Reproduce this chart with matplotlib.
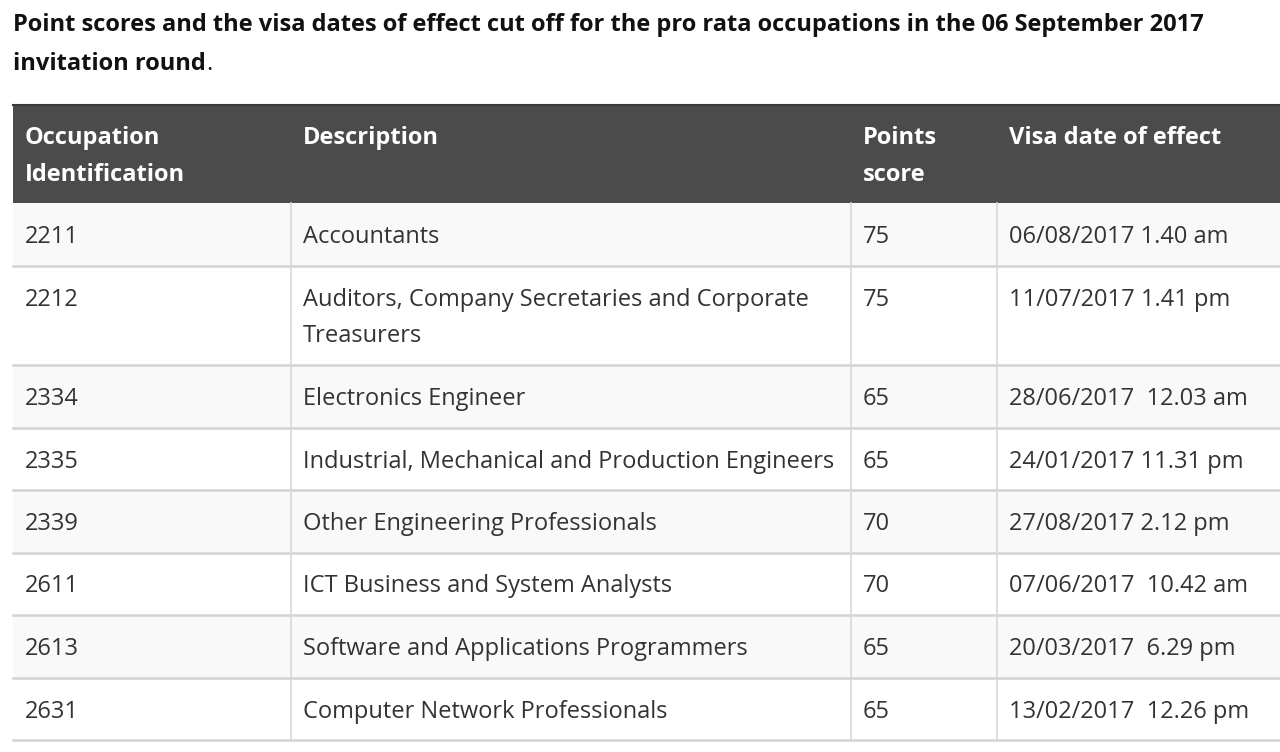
import matplotlib
matplotlib.use("Agg")
import matplotlib.pyplot as plt
from matplotlib.patches import Rectangle

title_lines = ["Point scores and the visa dates of effect cut off for the pro rata occupations in the 06 September 2017",
               "invitation round"]
headers = [["Occupation", "Identification"], ["Description"], ["Points", "score"], ["Visa date of effect"]]
codes = ["2211", "2212", "2334", "2335", "2339", "2611", "2613", "2631"]
descriptions = [["Accountants"],
                ["Auditors, Company Secretaries and Corporate", "Treasurers"],
                ["Electronics Engineer"],
                ["Industrial, Mechanical and Production Engineers"],
                ["Other Engineering Professionals"],
                ["ICT Business and System Analysts"],
                ["Software and Applications Programmers"],
                ["Computer Network Professionals"]]
points = ["75", "75", "65", "65", "70", "70", "65", "65"]
dates = ["06/08/2017 1.40 am", "11/07/2017 1.41 pm", "28/06/2017  12.03 am", "24/01/2017 11.31 pm",
         "27/08/2017 2.12 pm", "07/06/2017  10.42 am", "20/03/2017  6.29 pm", "13/02/2017  12.26 pm"]

W, H = 1280, 752
fig = plt.figure(figsize=(W / 100, H / 100), dpi=100)
ax = fig.add_axes([0, 0, 1, 1])
ax.set_xlim(0, W)
ax.set_ylim(H, 0)
ax.axis("off")

FONT = "Open Sans"
TXT = "#333333"
col_x = [13, 291, 851, 997, 1280]
pad_x = 12
table_top = 104
header_h = 99
line_h = 37
row_base = 62.5
first_off = 34
FS = 17

# title
t1 = ax.text(13, 25, title_lines[0], fontsize=17, fontweight="bold", family=FONT, color="#111111",
             va="center", ha="left")
t2 = ax.text(13, 64, title_lines[1], fontsize=17, fontweight="bold", family=FONT, color="#111111",
             va="center", ha="left")
ax.annotate(".", xy=(1, 0), xycoords=t2, fontsize=17, family=FONT, color="#111111",
            va="bottom", ha="left")

# header
ax.add_patch(Rectangle((col_x[0], table_top), col_x[-1] - col_x[0], header_h, facecolor="#4b4b4b",
                       edgecolor="none"))
ax.plot([col_x[0], col_x[-1]], [table_top + 1, table_top + 1], color="#3a3a3a", lw=1.5)
for c, lines in enumerate(headers):
    for i, s in enumerate(lines):
        ax.text(col_x[c] + pad_x, table_top + first_off + i * line_h, s, fontsize=FS, fontweight="bold",
                family=FONT, color="white", va="center", ha="left")

# rows
y = table_top + header_h
for r in range(len(codes)):
    nlines = max(len(descriptions[r]), 1)
    h = row_base + (nlines - 1) * line_h
    fc = "#f9f9f9" if r % 2 == 0 else "white"
    ax.add_patch(Rectangle((col_x[0], y), col_x[-1] - col_x[0], h, facecolor=fc, edgecolor="none"))
    cells = [[codes[r]], descriptions[r], [points[r]], [dates[r]]]
    for c, lines in enumerate(cells):
        for i, s in enumerate(lines):
            ax.text(col_x[c] + pad_x, y + first_off + i * line_h, s, fontsize=FS, family=FONT,
                    color=TXT, va="center", ha="left")
    for cx in col_x[1:-1]:
        ax.plot([cx, cx], [y, y + h], color="#d8d8d8", lw=1.2)
    y += h
    ax.plot([col_x[0], col_x[-1]], [y, y], color="#d3d3d3", lw=1.8)

fig.savefig("out.png", dpi=100, facecolor="white")
